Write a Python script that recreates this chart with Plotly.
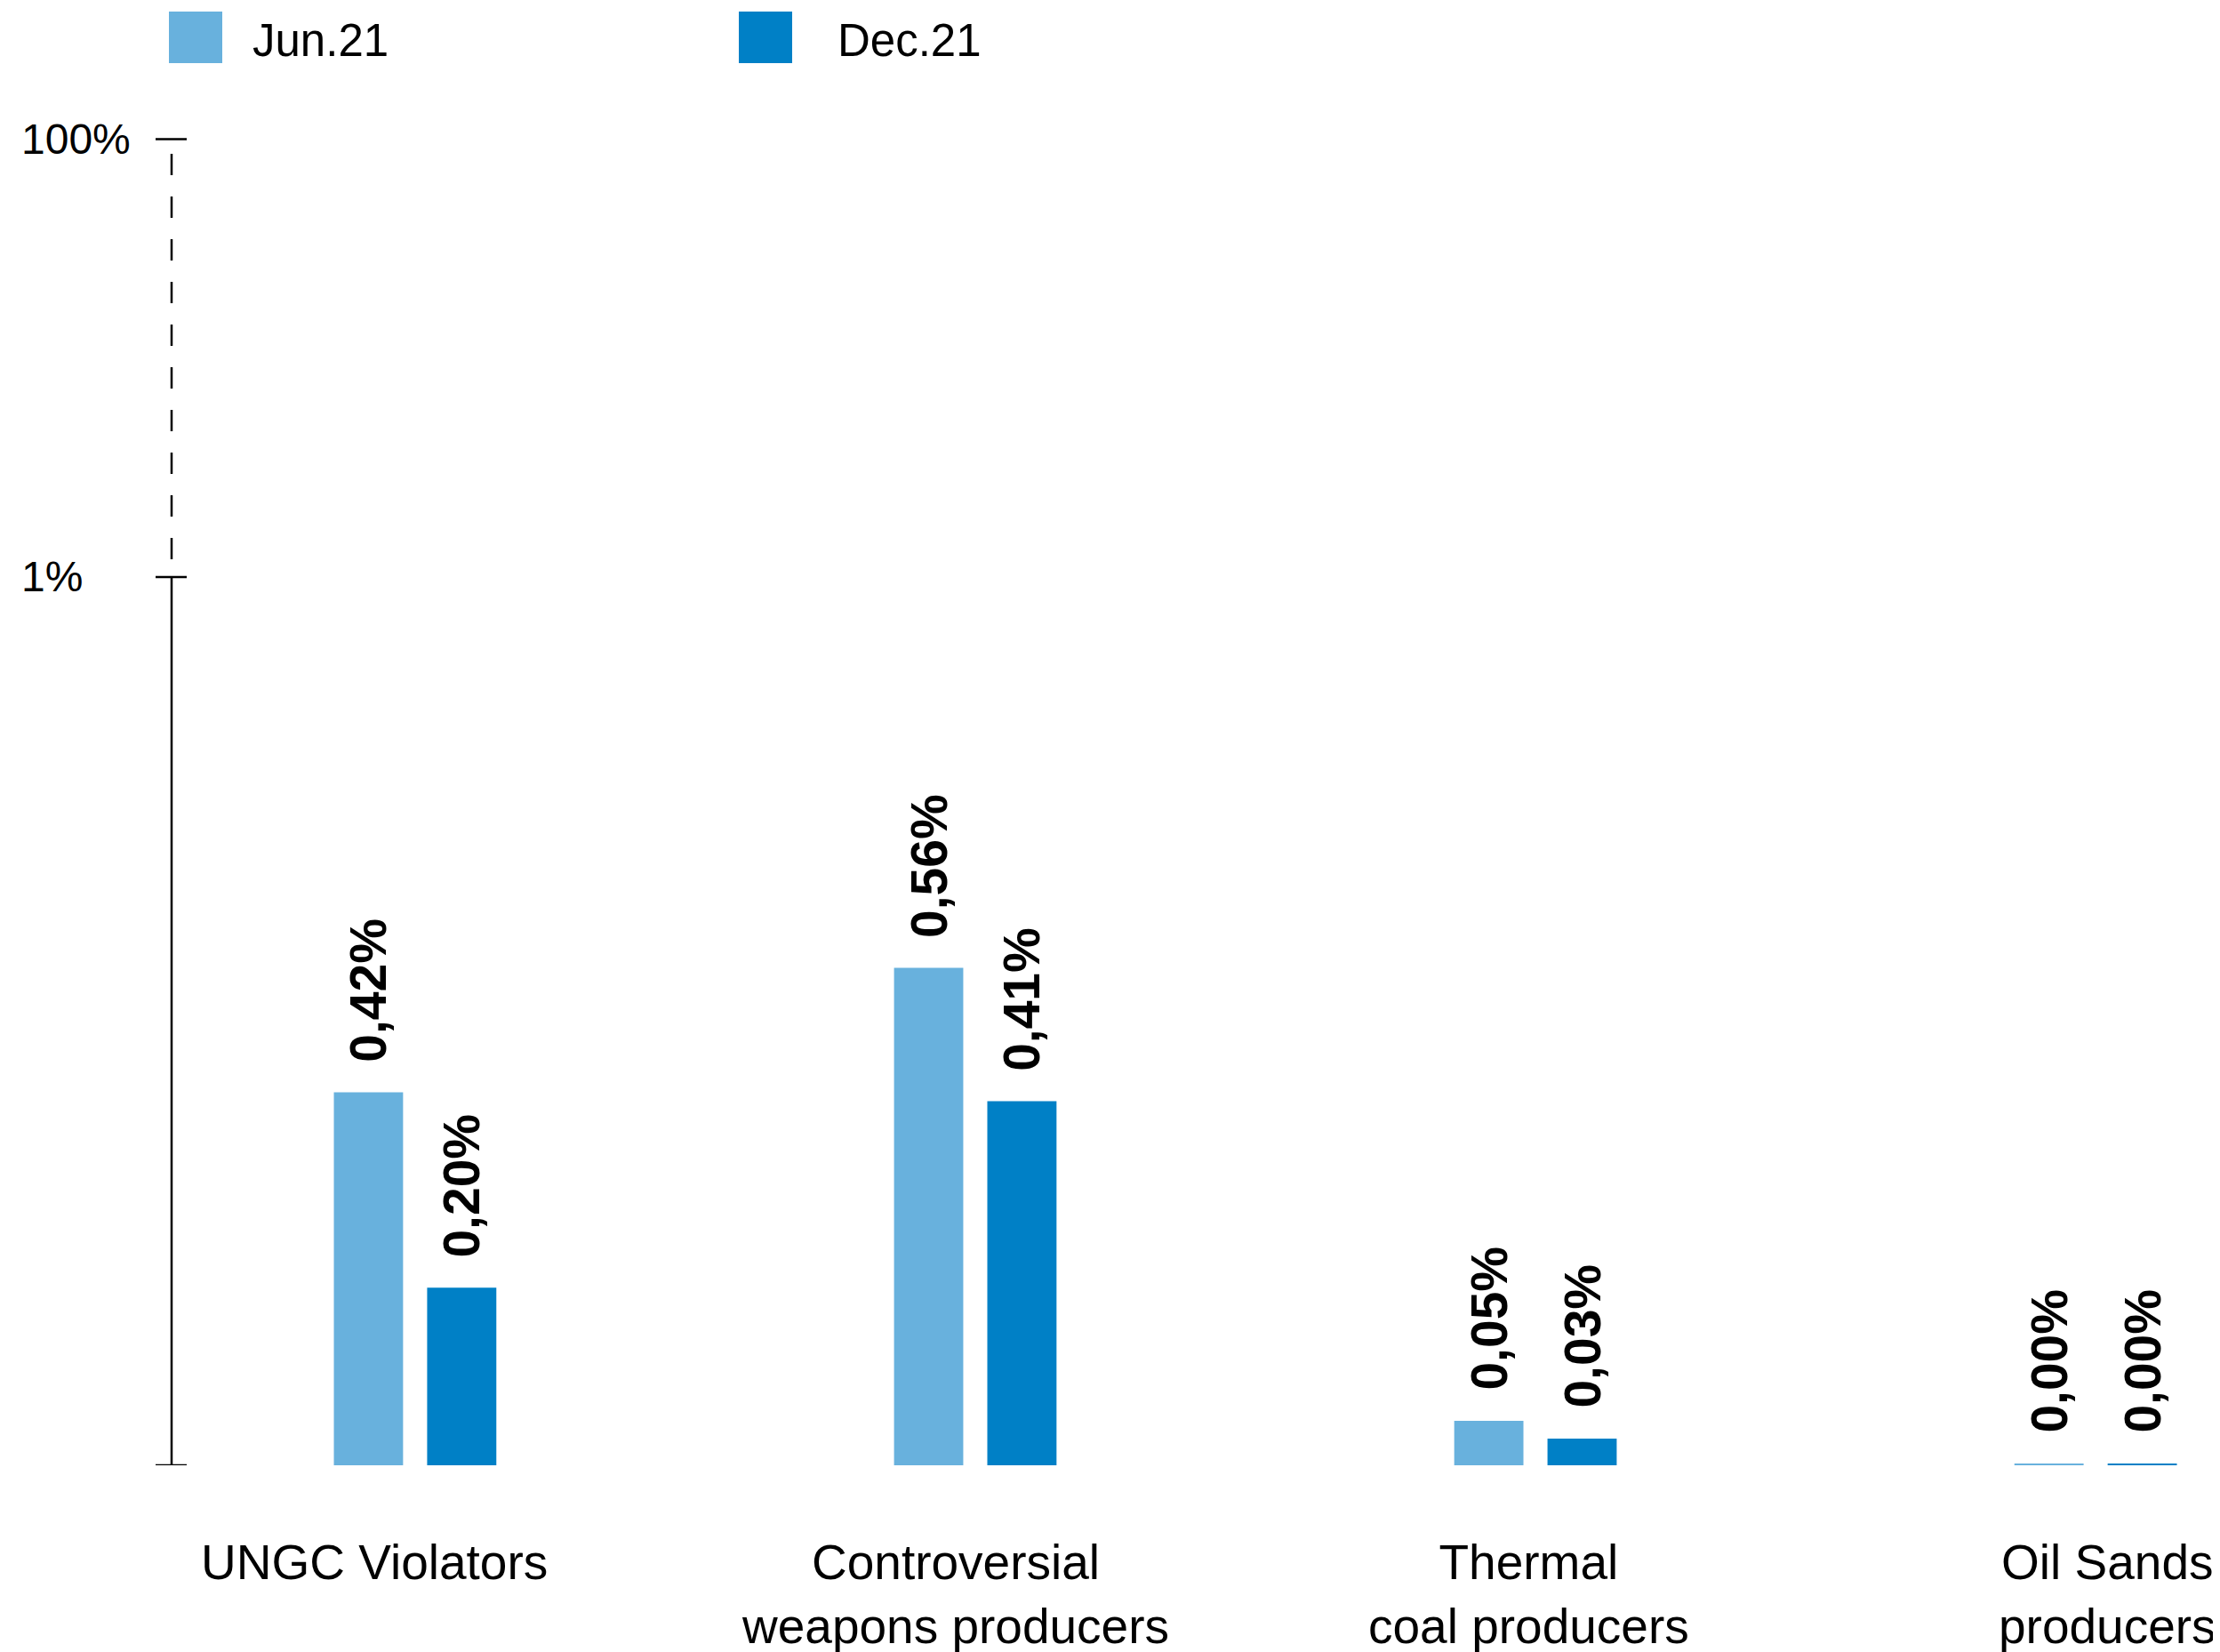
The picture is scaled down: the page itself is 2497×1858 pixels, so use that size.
import plotly.graph_objects as go

categories = ["UNGC Violators", "Controversial<br>weapons producers", "Thermal<br>coal producers", "Oil Sands<br>producers"]
series_names = ["Jun.21", "Dec.21"]
jun21 = [0.42, 0.56, 0.05, 0.002]
dec21 = [0.20, 0.41, 0.03, 0.002]
tick_values = [0, 1, 1.493]
tick_labels = ["", "1%", "100%"]

OFF = 8  # page body margin offset
W, H = 2497 - OFF, 1858 - OFF
ML, MR, MT, MB = 185, 0, 92, 210
PW = W - ML - MR
PH = H - MT - MB
YMAX = 1.5495
XR = [-0.4347, 3.222]

def px2paper_x(sx):
    return (sx - OFF - ML) / PW

def px2paper_y(sy):
    return (H - MB - (sy - OFF)) / PH

colors = ["#68b1dd", "#0080c6"]
font_family = "Liberation Sans, Arial, Helvetica, sans-serif"

fig = go.Figure()
for name, vals, col in zip(series_names, [jun21, dec21], colors):
    fig.add_trace(go.Bar(
        x=list(range(len(categories))), y=vals, name=name,
        marker=dict(color=col, line=dict(width=0)),
        showlegend=False, hoverinfo="skip",
    ))

annotations = []
shapes = []

# value labels
bar_offset_px = 52.5
for si, vals in enumerate([jun21, dec21]):
    for i, v in enumerate(vals):
        annotations.append(dict(
            x=i, y=v, xref="x", yref="y",
            text=f"{v:.2f}%".replace(".", ","),
            textangle=-90, showarrow=False,
            xanchor="center", yanchor="bottom",
            xshift=(-1 if si == 0 else 1) * bar_offset_px, yshift=32,
            font=dict(family=font_family, size=57, color="black", weight="bold"),
        ))

# category labels
label_shift = [-46, -22, -8, 13]
for i, c in enumerate(categories):
    annotations.append(dict(
        x=i, y=px2paper_y(1724), xref="x", yref="paper",
        text=c, showarrow=False, xanchor="center", yanchor="top",
        xshift=label_shift[i], align="center",
        font=dict(family=font_family, size=55, color="black"),
    ))

# y tick labels and tick marks
for tv, tl in zip(tick_values, tick_labels):
    if tl:
        annotations.append(dict(
            x=px2paper_x(22), y=tv, xref="paper", yref="y",
            text=tl, showarrow=False, xanchor="left", yanchor="middle",
            font=dict(family=font_family, size=48, color="black"),
        ))
    shapes.append(dict(type="line", xref="paper", yref="y",
                       x0=px2paper_x(175), x1=px2paper_x(210), y0=tv, y1=tv,
                       line=dict(color="black", width=2.5)))

# axis: solid part and dashed (broken) part
shapes.append(dict(type="line", xref="paper", yref="y", x0=0, x1=0, y0=0, y1=1,
                   line=dict(color="black", width=2.5)))
shapes.append(dict(type="line", xref="paper", yref="y", x0=0, x1=0, y0=1.02, y1=1.478,
                   line=dict(color="black", width=2.5, dash="24px,24px")))

# legend
legend_items = [(190, 282), (831, 940)]
for (sx, tx), name, col in zip(legend_items, series_names, colors):
    shapes.append(dict(type="rect", xref="paper", yref="paper",
                       x0=px2paper_x(sx), x1=px2paper_x(sx + 60),
                       y0=px2paper_y(13), y1=px2paper_y(71),
                       fillcolor=col, line=dict(width=0)))
    annotations.append(dict(
        x=px2paper_x(tx), y=px2paper_y(45), xref="paper", yref="paper",
        text=name, showarrow=False, xanchor="left", yanchor="middle",
        font=dict(family=font_family, size=51, color="black"),
    ))

fig.update_layout(
    width=W, height=H,
    margin=dict(l=ML, r=MR, t=MT, b=MB, pad=0),
    paper_bgcolor="white", plot_bgcolor="white",
    barmode="group", bargap=0.667, bargroupgap=0.258,
    xaxis=dict(range=XR, showticklabels=False, showgrid=False, zeroline=False,
               showline=False, ticks=""),
    yaxis=dict(range=[0, YMAX], showticklabels=False, showgrid=False, zeroline=False,
               showline=False, ticks=""),
    annotations=annotations, shapes=shapes,
    font=dict(family=font_family),
)

fig.write_html("out.html")
